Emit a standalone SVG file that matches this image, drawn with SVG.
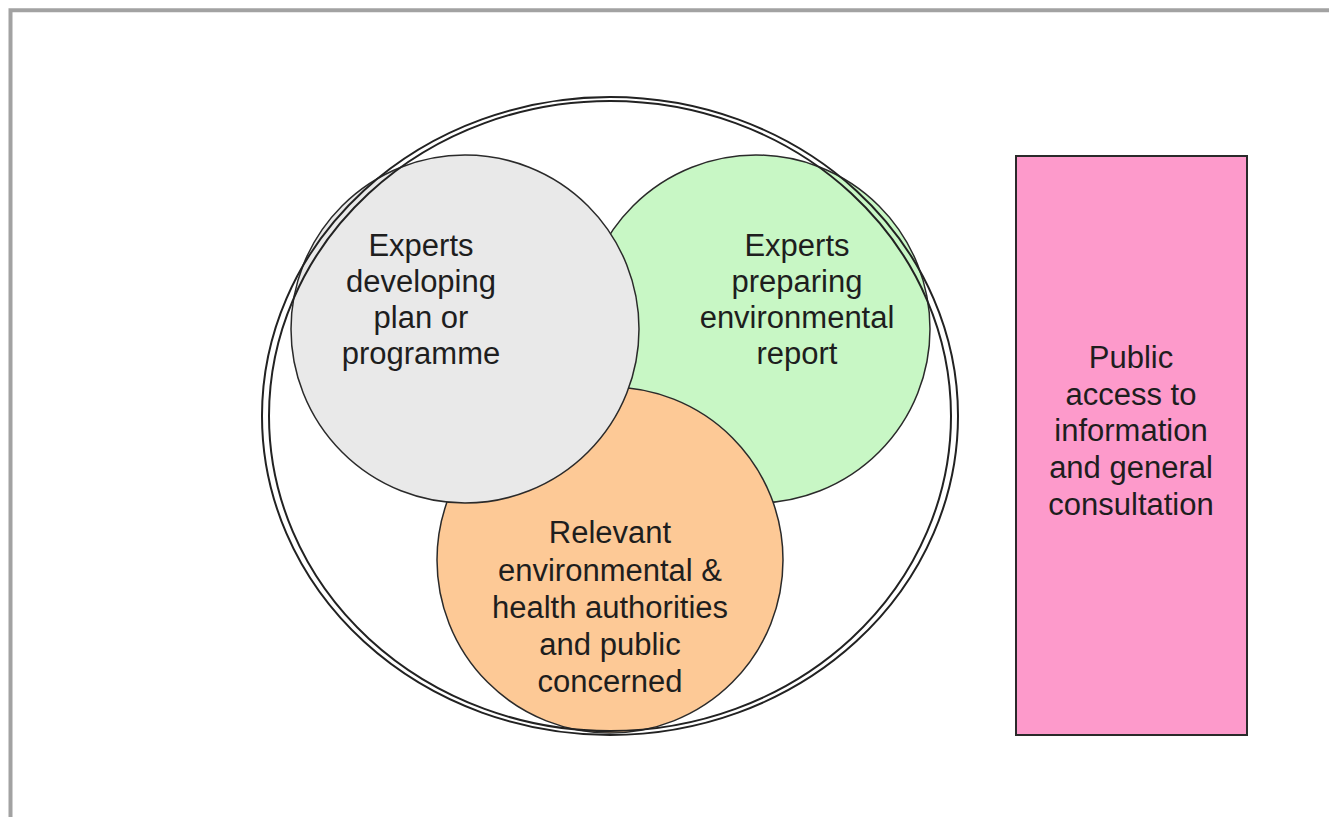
<svg xmlns="http://www.w3.org/2000/svg" width="1329" height="817" viewBox="0 0 1329 817">
<style>
.lbl{font-family:"Liberation Sans",Arial,sans-serif;font-size:31px;fill:#1e1e1e;text-anchor:middle}
.circ{stroke:#2a2a2a;stroke-width:1.5}
.ring{fill:none;stroke:#222;stroke-width:2}
</style>
<rect width="1329" height="817" fill="#ffffff"/>
<path d="M10.5 817 V10.3 H1329" fill="none" stroke="#a2a2a2" stroke-width="4"/>
<g id="node-report">
<circle class="circ" cx="756" cy="329" r="174" fill="#c8f7c5"/>
<text class="lbl" x="797" y="256">Experts</text>
<text class="lbl" x="797" y="292">preparing</text>
<text class="lbl" x="797" y="328">environmental</text>
<text class="lbl" x="797" y="364">report</text>
</g>
<g id="node-authorities">
<circle class="circ" cx="610" cy="560" r="173" fill="#fdc996"/>
<text class="lbl" x="610" y="543">Relevant</text>
<text class="lbl" x="610" y="581">environmental &amp;</text>
<text class="lbl" x="610" y="618">health authorities</text>
<text class="lbl" x="610" y="655">and public</text>
<text class="lbl" x="610" y="692">concerned</text>
</g>
<g id="node-plan">
<circle class="circ" cx="465" cy="329" r="174" fill="#e9e9e9"/>
<text class="lbl" x="421" y="256">Experts</text>
<text class="lbl" x="421" y="292">developing</text>
<text class="lbl" x="421" y="328">plan or</text>
<text class="lbl" x="421" y="364">programme</text>
</g>
<g id="node-ring">
<ellipse class="ring" cx="610" cy="416" rx="348" ry="319"/>
<ellipse class="ring" cx="610" cy="416" rx="341" ry="315"/>
</g>
<g id="node-public">
<rect x="1016" y="156" width="231" height="579" fill="#fd9acb" stroke="#2a2a2a" stroke-width="2"/>
<text class="lbl" x="1131" y="368">Public</text>
<text class="lbl" x="1131" y="405">access to</text>
<text class="lbl" x="1131" y="441">information</text>
<text class="lbl" x="1131" y="478">and general</text>
<text class="lbl" x="1131" y="515">consultation</text>
</g>
<g id="connectors"></g>
</svg>
